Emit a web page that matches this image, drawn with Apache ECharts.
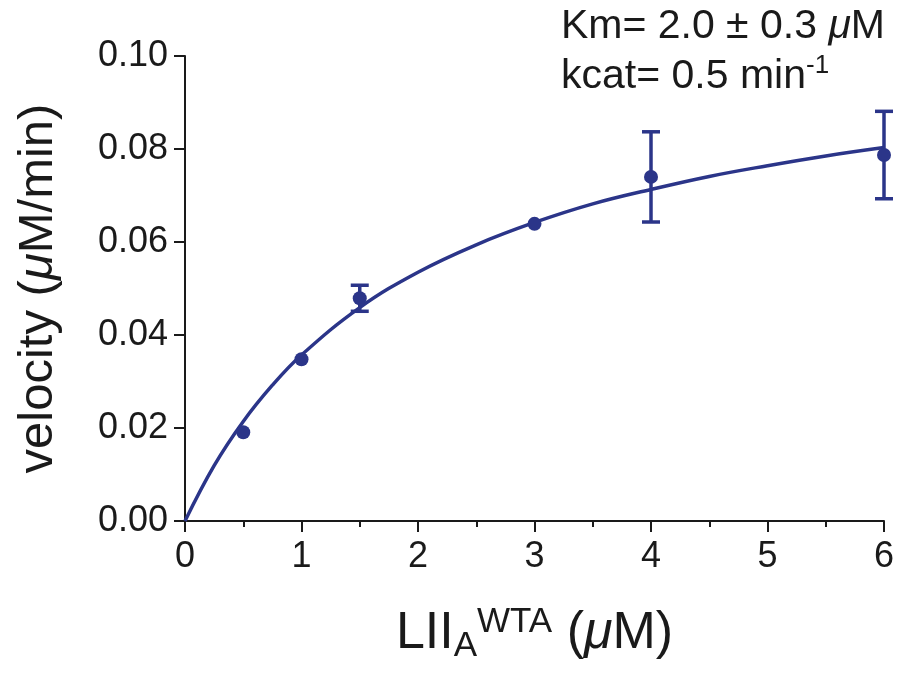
<!DOCTYPE html>
<html>
<head>
<meta charset="utf-8">
<script src="https://cdn.jsdelivr.net/npm/echarts@6/dist/echarts.min.js"></script>
<style>
  html, body { margin: 0; padding: 0; background: #fff; }
  #chart { width: 901px; height: 673px; }
</style>
</head>
<body>
<div id="chart"></div>
<script>
// measured points (substrate uM, velocity uM/min, sd)
const conc = [0.5, 1, 1.5, 3, 4, 6];
const velocity = [0.0191, 0.0348, 0.0479, 0.0639, 0.0740, 0.0787];
const errors = [0, 0, 0.0028, 0, 0.0097, 0.0094];

// fitted curve
const fitX = [0, 0.25, 0.5, 0.75, 1, 1.5, 2, 2.5, 3, 3.5, 4, 4.5, 5, 5.5, 6];
const fitY = [0, 0.0119, 0.0214, 0.0292, 0.0357, 0.0459, 0.0535, 0.0594, 0.0642,
  0.0682, 0.0713, 0.0741, 0.0764, 0.0785, 0.0803];

const xTicks = [0, 1, 2, 3, 4, 5, 6];
const yTicks = [0, 0.02, 0.04, 0.06, 0.08, 0.10];

const blue = '#2b3589';
const ink = '#1a1a1a';
const font = "'Liberation Sans', Arial, Helvetica, sans-serif";

const chart = echarts.init(document.getElementById('chart'));

const points = conc.map((x, i) => [x, velocity[i]]);
const bars = conc
  .map((x, i) => [x, velocity[i] - errors[i], velocity[i] + errors[i], errors[i]])
  .filter(d => d[3] > 0);
const fit = fitX.map((x, i) => [x, fitY[i]]);

chart.setOption({
  animation: false,
  textStyle: {fontFamily: font, color: ink},
  grid: {left: 185, right: 17, top: 56, bottom: 152},
  xAxis: {
    type: 'value',
    min: xTicks[0],
    max: xTicks[xTicks.length - 1],
    interval: 1,
    name: '{main|LII}{sub|A}{sup|WTA}{main| (}{mu|μ}{main|M)}',
    nameLocation: 'middle',
    nameGap: 82,
    nameTextStyle: {
      rich: {
        main: {fontSize: 52, fontFamily: font, color: ink},
        mu: {fontSize: 52, fontFamily: font, fontStyle: 'italic', color: ink},
        sub: {fontSize: 35, fontFamily: font, color: ink, padding: [26, 0, 0, 0]},
        sup: {fontSize: 35, fontFamily: font, color: ink, padding: [0, 0, 22, 0]}
      }
    },
    axisLine: {lineStyle: {color: ink, width: 2}},
    axisTick: {length: 11, lineStyle: {color: ink, width: 2}},
    minorTick: {show: true, splitNumber: 2, length: 6, lineStyle: {color: ink, width: 2}},
    axisLabel: {fontSize: 36, color: ink, margin: 18, fontFamily: font},
    splitLine: {show: false}
  },
  yAxis: {
    type: 'value',
    min: yTicks[0],
    max: yTicks[yTicks.length - 1],
    interval: 0.02,
    name: '{main|velocity (}{mu|μ}{main|M/min)}',
    nameLocation: 'middle',
    nameGap: 122,
    nameTextStyle: {
      rich: {
        main: {fontSize: 49, fontFamily: font, color: ink},
        mu: {fontSize: 49, fontFamily: font, fontStyle: 'italic', color: ink}
      }
    },
    axisLine: {show: true, lineStyle: {color: ink, width: 2}},
    axisTick: {show: true, length: 11, lineStyle: {color: ink, width: 2}},
    axisLabel: {
      fontSize: 36, color: ink, margin: 17, fontFamily: font,
      formatter: v => v.toFixed(2)
    },
    splitLine: {show: false}
  },
  graphic: [
    {
      type: 'text', right: 16, top: 6,
      style: {
        text: '{t|Km= 2.0 ± 0.3 }{mu|μ}{t|M}',
        rich: {
          t: {fontSize: 41, fontFamily: font, fill: ink},
          mu: {fontSize: 41, fontFamily: font, fontStyle: 'italic', fill: ink}
        }
      }
    },
    {
      type: 'text', left: 561, top: 53,
      style: {
        text: '{t|kcat= 0.5 min}{sup|-1}',
        rich: {
          t: {fontSize: 41, fontFamily: font, fill: ink},
          sup: {fontSize: 26, fontFamily: font, fill: ink, padding: [0, 0, 22, 0]}
        }
      }
    }
  ],
  series: [
    {
      type: 'line',
      data: fit,
      smooth: 0.4,
      showSymbol: false,
      symbol: 'none',
      lineStyle: {color: blue, width: 3.5},
      z: 2
    },
    {
      type: 'custom',
      data: bars,
      z: 3,
      renderItem: function (params, api) {
        const top = api.coord([api.value(0), api.value(2)]);
        const bot = api.coord([api.value(0), api.value(1)]);
        const w = 9;
        const st = {stroke: blue, lineWidth: 3.5};
        return {
          type: 'group',
          children: [
            {type: 'line', shape: {x1: top[0], y1: top[1], x2: bot[0], y2: bot[1]}, style: st},
            {type: 'line', shape: {x1: top[0] - w, y1: top[1], x2: top[0] + w, y2: top[1]}, style: st},
            {type: 'line', shape: {x1: bot[0] - w, y1: bot[1], x2: bot[0] + w, y2: bot[1]}, style: st}
          ]
        };
      }
    },
    {
      type: 'scatter',
      data: points,
      symbol: 'circle',
      symbolSize: 14,
      itemStyle: {color: blue, opacity: 1},
      z: 4
    }
  ]
});
</script>
</body>
</html>
